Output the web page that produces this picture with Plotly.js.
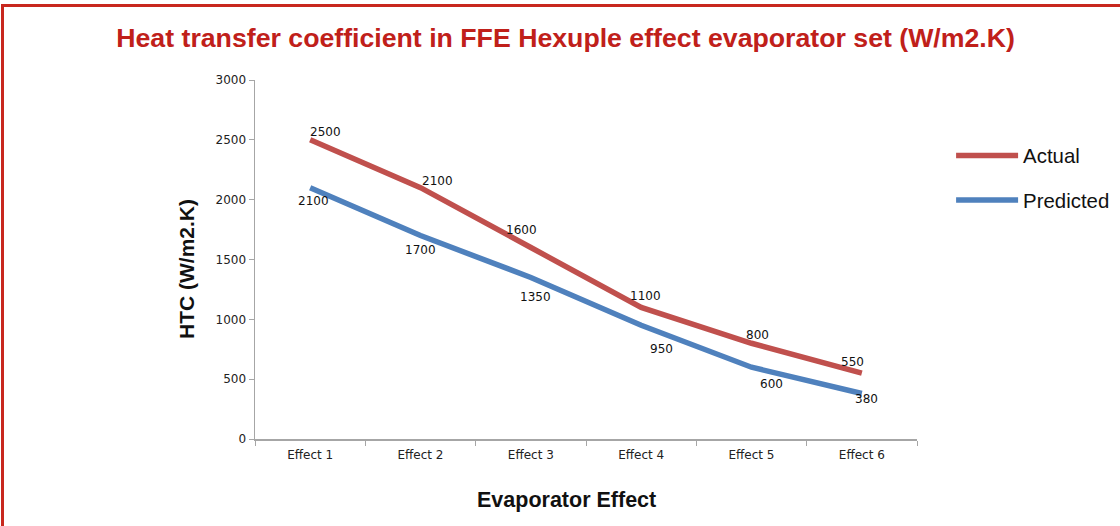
<!DOCTYPE html>
<html>
<head>
<meta charset="utf-8">
<script src="https://cdn.plot.ly/plotly-3.0.1.min.js"></script>
<style>
html,body{margin:0;padding:0;background:#fff;}
#frame{position:absolute;left:0;top:0;width:1120px;height:526px;overflow:hidden;}
#border{position:absolute;left:1px;top:4px;width:1200px;height:600px;border-top:3px solid #c8281e;border-left:3px solid #c8281e;pointer-events:none;}
#chart{position:absolute;left:0;top:0;width:1120px;height:526px;}
</style>
</head>
<body>
<div id="frame">
<div id="chart"></div>
<div id="border"></div>
</div>
<script>
const categories = ["Effect 1","Effect 2","Effect 3","Effect 4","Effect 5","Effect 6"];
const actual = [2500, 2100, 1600, 1100, 800, 550];
const predicted = [2100, 1700, 1350, 950, 600, 380];
const yTicks = [0, 500, 1000, 1500, 2000, 2500, 3000];

// label offsets (px) – styling only
const actualShift = [[15,8],[17,7],[-9,18],[4,11],[6,8],[-9,11]];
const predShift = [[3,-13],[0,-14],[5,-20],[20,-24],[20,-17],[5,-5]];

const traces = [
  {x: categories, y: actual, name: "Actual", type: "scatter", mode: "lines",
   line: {color: "#c0504d", width: 5.5}, legendgroup: "a"},
  {x: categories, y: predicted, name: "Predicted", type: "scatter", mode: "lines",
   line: {color: "#4f81bd", width: 5.5}, legendgroup: "p"}
];

const labelFont = {family: "DejaVu Sans", size: 12, color: "#111"};
const annotations = [];
categories.forEach((c, i) => {
  annotations.push({x: c, y: actual[i], text: String(actual[i]), showarrow: false,
    xshift: actualShift[i][0], yshift: actualShift[i][1], font: labelFont});
  annotations.push({x: c, y: predicted[i], text: String(predicted[i]), showarrow: false,
    xshift: predShift[i][0], yshift: predShift[i][1], font: labelFont});
});
// axis titles
annotations.push({xref: "paper", yref: "paper", x: (566 - 255) / 662, y: -61 / 359,
  xanchor: "center", yanchor: "middle", showarrow: false,
  text: "<b>Evaporator Effect</b>",
  font: {family: "Liberation Sans, Arial", size: 21.5, color: "#111"}});
annotations.push({xref: "paper", yref: "paper", x: -69 / 662, y: (439 - 269) / 359,
  xanchor: "center", yanchor: "middle", showarrow: false, textangle: -90,
  text: "<b>HTC (W/m2.K)</b>",
  font: {family: "Liberation Sans, Arial", size: 21, color: "#111"}});

const layout = {
  width: 1120, height: 526,
  paper_bgcolor: "#ffffff", plot_bgcolor: "#ffffff",
  margin: {l: 255, r: 203, t: 80, b: 87, autoexpand: false},
  title: {text: "<b>Heat transfer coefficient in FFE Hexuple effect evaporator set (W/m2.K)</b>",
    x: 0.505, xanchor: "center", y: 0.928, yanchor: "middle",
    font: {family: "Liberation Sans, Arial", size: 26.7, color: "#c0201a"}},
  xaxis: {
    type: "category", range: [-0.5, 5.5],
    showline: true, linecolor: "#a6a6a6", linewidth: 1.5,
    ticks: "outside", tickson: "boundaries", ticklen: 5, tickcolor: "#a6a6a6",
    ticklabelstandoff: 4,
    showgrid: false, zeroline: false,
    tickfont: {family: "DejaVu Sans", size: 12, color: "#222"}
  },
  yaxis: {
    range: [0, 3000], tickvals: yTicks,
    showline: true, linecolor: "#a6a6a6", linewidth: 1.5,
    ticks: "outside", ticklen: 5, tickcolor: "#a6a6a6",
    showgrid: false, zeroline: false,
    tickfont: {family: "DejaVu Sans", size: 12, color: "#222"}
  },
  legend: {x: 0.0515 + 1, xanchor: "left", y: 0.845, yanchor: "top",
    traceorder: "grouped", tracegroupgap: 15, itemwidth: 62,
    font: {family: "Liberation Sans, Arial", size: 20.4, color: "#111"},
    bgcolor: "rgba(0,0,0,0)"},
  annotations: annotations,
  showlegend: true
};

Plotly.newPlot("chart", traces, layout, {displayModeBar: false, staticPlot: true});
</script>
</body>
</html>
